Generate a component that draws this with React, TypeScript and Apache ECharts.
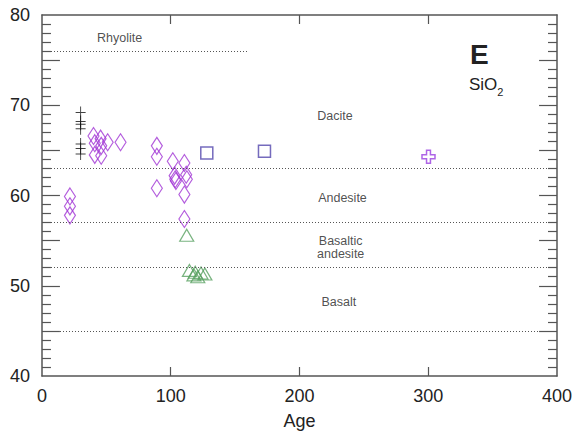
import React, { useEffect, useRef } from "react";
import * as echarts from "echarts";

// Sample groups: [age, SiO2]
const crossPts: number[][] = [
  [30, 69.2], [30, 68.2], [30, 67.9], [30, 67.4], [30, 65.7], [30, 65.2], [30, 64.6],
];
const diamondPts: number[][] = [
  [21.7, 59.9], [21.7, 58.8], [21.7, 57.8],
  [40, 66.6], [41, 65.8], [45.5, 66.3], [46, 65.5], [51, 65.9], [61, 65.9],
  [41, 64.5], [46, 64.4],
  [89.2, 65.5], [89.2, 64.3], [89.2, 60.8],
  [101.6, 63.8], [103, 62.2], [103.5, 61.8], [104, 61.6],
  [110.6, 63.6], [112, 62.3], [112.5, 61.8], [110.6, 60.1], [110.6, 57.4],
];
const squarePts: number[][] = [
  [128, 64.7], [172.8, 64.9],
];
const plusPts: number[][] = [
  [300.2, 64.3],
];
const trianglePts: number[][] = [
  [112.4, 55.6], [114.5, 51.7], [118, 51.2], [119, 51.5], [121, 51.0], [123.5, 51.4], [126.5, 51.3],
];

// Rock-type boundaries (SiO2)
const boundaries = [63, 57, 52, 45];
const rhyoliteLine = { y: 76, xEnd: 160 };

// Region labels [age, SiO2, text]
const regionLabels: [number, number, string][] = [
  [60.3, 77.5, "Rhyolite"],
  [227.5, 68.85, "Dacite"],
  [233.4, 59.75, "Andesite"],
  [232, 54.2, "Basaltic\nandesite"],
  [230.6, 48.15, "Basalt"],
];

const xTicks = [0, 100, 200, 300, 400];
const yTicks = [40, 50, 60, 70, 80];
const yMinorStep = 1;
const yMajorStep = 5;

const FONT = "Liberation Sans, Arial, Helvetica, sans-serif";
const AXIS_COLOR = "#555555";

const W = 575;
const H = 435;
const GRID = { left: 42, right: 16, top: 15, bottom: 58 };

export default function App() {
  const ref = useRef<HTMLDivElement>(null);

  useEffect(() => {
    document.body.style.margin = "0";
    if (!ref.current) return;
    const chart = echarts.init(ref.current, null, { renderer: "svg" });

    const xMin = xTicks[0];
    const xMax = xTicks[xTicks.length - 1];
    const yMin = yTicks[0];
    const yMax = yTicks[yTicks.length - 1];

    // data units per pixel, to give the frame ticks fixed pixel lengths
    const gridW = W - GRID.left - GRID.right;
    const gridH = H - GRID.top - GRID.bottom;
    const xPerPx = (xMax - xMin) / gridW;
    const yPerPx = (yMax - yMin) / gridH;

    const tickSegments: any[] = [];
    for (let v = yMin + yMinorStep; v < yMax - 1e-9; v += yMinorStep) {
      const isMajor = Math.abs(v % yMajorStep) < 1e-9;
      const len = (isMajor ? 18 : 9) * xPerPx;
      tickSegments.push([{ coord: [xMin, v] }, { coord: [xMin + len, v] }]);
      tickSegments.push([{ coord: [xMax, v] }, { coord: [xMax - len, v] }]);
    }
    for (const t of xTicks.slice(1, -1)) {
      const len = 9 * yPerPx;
      tickSegments.push([{ coord: [t, yMin] }, { coord: [t, yMin + len] }]);
      tickSegments.push([{ coord: [t, yMax] }, { coord: [t, yMax - len] }]);
    }

    const baseX = {
      type: "value" as const,
      min: xMin,
      max: xMax,
      interval: 100,
      axisLine: { show: true, onZero: false, lineStyle: { color: AXIS_COLOR, width: 1.5 } },
      axisTick: { show: false },
      splitLine: { show: false },
    };
    const baseY = {
      type: "value" as const,
      min: yMin,
      max: yMax,
      interval: 10,
      axisLine: { show: true, onZero: false, lineStyle: { color: AXIS_COLOR, width: 1.5 } },
      axisTick: { show: false },
      minorTick: { show: false },
      splitLine: { show: false },
    };

    const boundaryLines: any[] = boundaries.map((v) => ({ yAxis: v }));
    boundaryLines.push([
      { coord: [xMin, rhyoliteLine.y] },
      { coord: [rhyoliteLine.xEnd, rhyoliteLine.y] },
    ]);

    const option: any = {
      animation: false,
      grid: { ...GRID, containLabel: false },
      xAxis: [
        {
          ...baseX,
          position: "bottom",
          name: "Age",
          nameLocation: "middle",
          nameGap: 36,
          nameTextStyle: { fontFamily: FONT, fontSize: 18, color: "#222" },
          axisLabel: { fontFamily: FONT, fontSize: 18, color: "#222", margin: 11 },
        },
        {
          ...baseX,
          position: "top",
          axisLabel: { show: false },
        },
      ],
      yAxis: [
        {
          ...baseY,
          position: "left",
          axisLabel: { fontFamily: FONT, fontSize: 18, color: "#222", margin: 12 },
        },
        {
          ...baseY,
          position: "right",
          axisLabel: { show: false },
        },
      ],
      series: [
        {
          type: "scatter",
          data: [],
          silent: true,
          markLine: {
            silent: true,
            symbol: "none",
            label: { show: false },
            lineStyle: { type: [1, 2], color: "#555", width: 1 },
            data: boundaryLines,
          },
        },
        {
          type: "scatter",
          data: [],
          silent: true,
          z: 5,
          markLine: {
            silent: true,
            symbol: "none",
            label: { show: false },
            lineStyle: { type: "solid", color: AXIS_COLOR, width: 1.2 },
            data: tickSegments,
          },
        },
        {
          type: "scatter",
          silent: true,
          symbol: "circle",
          symbolSize: 1,
          itemStyle: { color: "rgba(0,0,0,0)" },
          data: regionLabels.map((r) => ({ value: [r[0], r[1]], name: r[2] })),
          label: {
            show: true,
            position: "inside",
            formatter: (p: any) => p.name,
            fontFamily: FONT,
            fontSize: 12.5,
            lineHeight: 13,
            color: "#222",
            align: "center",
            verticalAlign: "middle",
          },
        },
        {
          type: "scatter",
          data: crossPts,
          symbol: "path://M0,6 L10,6 M5,0 L5,12",
          symbolSize: [10, 12],
          itemStyle: { color: "none", borderColor: "#111", borderWidth: 1 },
        },
        {
          type: "scatter",
          data: diamondPts,
          symbol: "diamond",
          symbolSize: [11, 17],
          itemStyle: { color: "none", borderColor: "#a034d4", borderWidth: 1.2 },
        },
        {
          type: "scatter",
          data: squarePts,
          symbol: "rect",
          symbolSize: 12,
          itemStyle: { color: "none", borderColor: "#5346ad", borderWidth: 1.5 },
        },
        {
          type: "scatter",
          data: plusPts,
          symbol: "path://M3.5,0 L6.5,0 L6.5,3.5 L10,3.5 L10,6.5 L6.5,6.5 L6.5,10 L3.5,10 L3.5,6.5 L0,6.5 L0,3.5 L3.5,3.5 Z",
          symbolSize: 13,
          itemStyle: { color: "none", borderColor: "#9a3fe0", borderWidth: 1.5 },
        },
        {
          type: "scatter",
          data: trianglePts,
          symbol: "triangle",
          symbolSize: [14, 12],
          itemStyle: { color: "none", borderColor: "#58a060", borderWidth: 1.2 },
        },
      ],
      graphic: [
        {
          type: "text",
          left: 470,
          top: 40,
          style: { text: "E", fontFamily: FONT, fontSize: 28, fontWeight: "bold", fill: "#222" },
        },
        {
          type: "text",
          left: 469,
          top: 76,
          style: {
            text: "{a|SiO}{b|2}",
            rich: {
              a: { fontFamily: FONT, fontSize: 17, lineHeight: 20, fill: "#222", verticalAlign: "bottom" },
              b: { fontFamily: FONT, fontSize: 11, lineHeight: 14, fill: "#222", verticalAlign: "bottom", padding: [0, 0, -4, 0] },
            },
          },
        },
      ],
    };

    chart.setOption(option);
    return () => chart.dispose();
  }, []);

  return <div ref={ref} style={{ width: W, height: H }} />;
}
